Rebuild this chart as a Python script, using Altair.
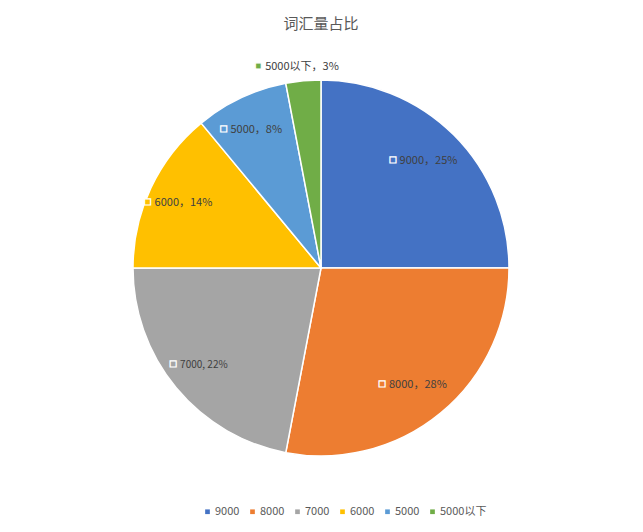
import altair as alt
import pandas as pd
import math

categories = ["9000", "8000", "7000", "6000", "5000", "5000以下"]
values = [25, 28, 22, 14, 8, 3]
labels = ["9000，25%", "8000，28%", "7000, 22%", "6000，14%", "5000，8%", "5000以下，3%"]
colors = ["#4472C4", "#ED7D31", "#A5A5A5", "#FFC000", "#5B9BD5", "#70AD47"]

df = pd.DataFrame({
    "cat": categories,
    "value": values,
    "label": labels,
    "idx": list(range(len(categories))),
})

FONT = "Noto Sans CJK SC"

legend = alt.Legend(
    orient="none", direction="horizontal", title=None,
    legendX=194, legendY=458, symbolType="square", symbolSize=22,
    labelFont=FONT, labelFontSize=11, labelColor="#595959",
    labelOffset=2, columnPadding=7, padding=0, symbolStrokeWidth=0,
)

color = alt.Color("cat:N", scale=alt.Scale(domain=categories, range=colors),
                  sort=categories, legend=legend)
tscale = alt.Scale(domain=[0, 100], range=[0, 2 * math.pi])

base = alt.Chart(df).transform_window(
    end="sum(value)", sort=[alt.SortField("idx", order="ascending")],
    frame=[None, 0],
).transform_calculate(
    start="datum.end - datum.value",
    mid="datum.end - datum.value / 2",
)

pie = base.mark_arc(radius=188, stroke="white", strokeWidth=1.5).encode(
    theta=alt.Theta("start:Q", scale=tscale),
    theta2="end:Q",
    color=color,
)


def est_width(s, fs):
    w = 0
    for ch in s:
        if ord(ch) > 0x2E80:
            w += fs
        elif ch.isdigit():
            w += 0.57 * fs
        elif ch == "%":
            w += 0.82 * fs
        else:
            w += 0.27 * fs
    return w


layers = [pie]
for c, lab, v in zip(categories, labels, values):
    fs = 10 if c == "7000" else 11
    r = 202 if v < 5 else 152
    sub = base.transform_filter(alt.datum.cat == c)
    t = sub.mark_text(font=FONT, fill="#404040", align="center", baseline="middle",
                      fontSize=fs, radius=r).encode(
        theta=alt.Theta("mid:Q", scale=tscale), text="label:N")
    dx = -(est_width(lab, fs) / 2 + 7)
    m = sub.mark_text(
        text="■", fontSize=8, stroke="white", strokeWidth=1.2, radius=r,
        align="center", baseline="middle", dx=dx, dy=-1, font="DejaVu Sans",
    ).encode(theta=alt.Theta("mid:Q", scale=tscale), color=color)
    layers += [t, m]

chart = alt.layer(*layers).properties(
    width=626, height=440,
    padding={"top": 40, "left": 0, "right": 0, "bottom": 36},
    autosize=alt.AutoSizeParams(type="none"),
    title=alt.TitleParams("词汇量占比", font=FONT, fontSize=15, fontWeight="normal",
                          color="#595959", anchor="middle", offset=16),
).configure_view(stroke=None)

chart.save("out.html", embed_options={"renderer": "svg", "actions": False})
